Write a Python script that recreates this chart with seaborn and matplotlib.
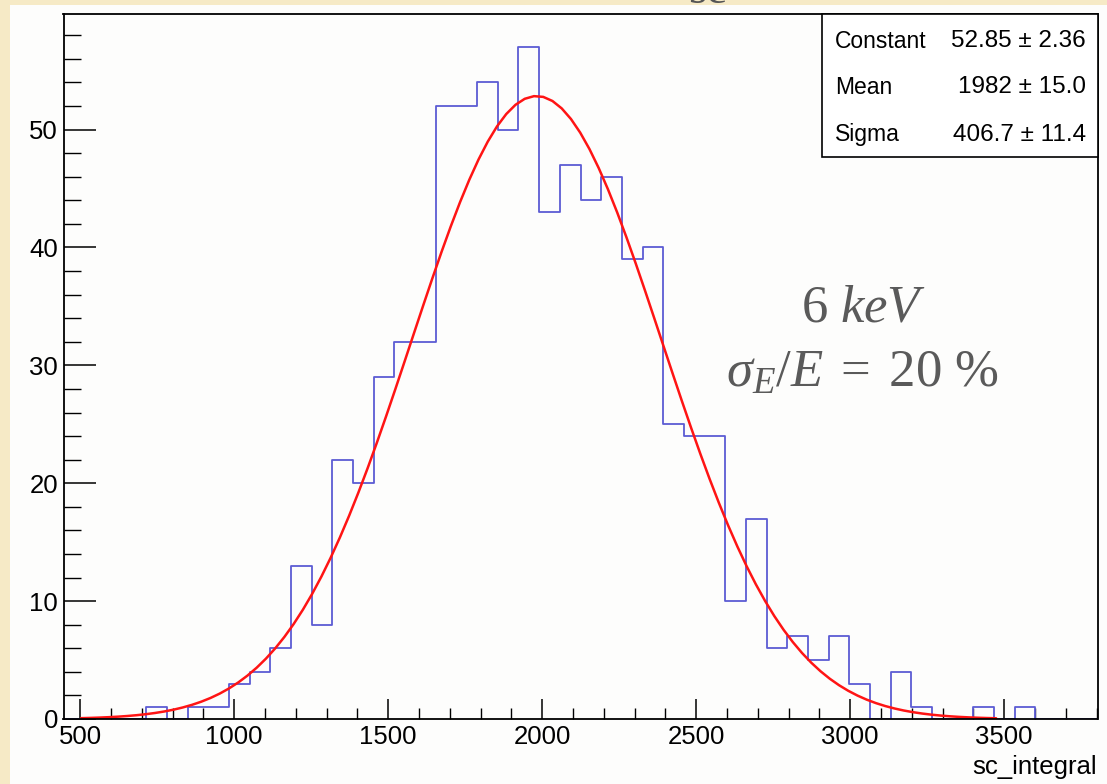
import numpy as np
import pandas as pd
import matplotlib
matplotlib.use("Agg")
import matplotlib.pyplot as plt
import seaborn as sns
from matplotlib.patches import Rectangle
from matplotlib.ticker import MultipleLocator, FixedLocator

# ---------------- data ----------------
bin_low = 446.0
bin_width = 67.14
counts = [0, 0, 0, 0, 1, 0, 1, 1, 3, 4,
          6, 13, 8, 22, 20, 29, 32, 32, 52, 52,
          54, 50, 57, 43, 47, 44, 46, 39, 40, 25,
          24, 24, 10, 17, 6, 7, 5, 7, 3, 0,
          4, 1, 0, 0, 1, 0, 1, 0, 0, 0]

fit_constant = 52.85
fit_mean = 1982.0
fit_sigma = 406.7
fit_range = (503.0, 3474.0)
fit_npx = 100

stat_names = ["Constant", "Mean", "Sigma"]
stat_values = ["52.85 ± 2.36", "1982 ± 15.0", "406.7 ± 11.4"]

x_major = [500, 1000, 1500, 2000, 2500, 3000, 3500]
y_major = [0, 10, 20, 30, 40, 50]
x_label = "sc_integral"
note_line1 = r"$6\ keV$"
note_line2 = r"$\sigma_E/E\;=\;20\ \%$"

# ---------------- derived ----------------
edges = [float(bin_low + bin_width * i) for i in range(len(counts) + 1)]
centers = [0.5 * (edges[i] + edges[i + 1]) for i in range(len(counts))]
hist_df = pd.DataFrame({"x": centers, "w": counts})

fit_x = np.linspace(fit_range[0], fit_range[1], fit_npx)
fit_y = fit_constant * np.exp(-0.5 * ((fit_x - fit_mean) / fit_sigma) ** 2)
fit_df = pd.DataFrame({"x": fit_x, "y": fit_y})

# ---------------- style ----------------
sns.set_style("ticks")
plt.rcParams["font.family"] = ["Liberation Sans", "DejaVu Sans"]
plt.rcParams["mathtext.fontset"] = "custom"
plt.rcParams["mathtext.rm"] = "Liberation Serif"
plt.rcParams["mathtext.it"] = "Liberation Serif:italic"
plt.rcParams["text.color"] = "black"
plt.rcParams["xtick.color"] = "black"
plt.rcParams["ytick.color"] = "black"
plt.rcParams["xtick.labelcolor"] = "black"
plt.rcParams["ytick.labelcolor"] = "black"

W, H = 1107.0, 784.0
fig = plt.figure(figsize=(W / 100, H / 100), dpi=100, facecolor="#f6eac6")


def fx(px):
    return px / W


def fy(py):
    return 1.0 - py / H


# white ROOT canvas (behind everything)
fig.patches.append(Rectangle((fx(10), 0), 1, fy(5), transform=fig.transFigure,
                             facecolor="#fdfdfc", edgecolor="none", zorder=-10))

# cut-off slide title at the very top
fig.text(fx(708), fy(3), "se", fontsize=34, family="Liberation Serif",
         color="#555555", ha="center", va="baseline")

ax = fig.add_axes([fx(63.5), fy(719), fx(1097.5) - fx(63.5), fy(13.5) - fy(719)])
ax.set_facecolor("#fdfdfc")
ax.set_zorder(1)

sns.histplot(data=hist_df, x="x", weights="w", bins=edges, element="step",
             fill=False, color="#5c5cd4", linewidth=1.3, ax=ax)
sns.lineplot(data=fit_df, x="x", y="y", color="#ff1414", linewidth=1.8,
             sort=False, ax=ax)

ax.set_xlim(bin_low, edges[-1])
ax.set_ylim(0, 59.85)
ax.set_xlabel("")
ax.set_ylabel("")

ax.xaxis.set_major_locator(FixedLocator(x_major))
ax.xaxis.set_minor_locator(MultipleLocator(100))
ax.yaxis.set_major_locator(FixedLocator(y_major))
ax.yaxis.set_minor_locator(MultipleLocator(2))

for s in ax.spines.values():
    s.set_visible(True)
    s.set_linewidth(1.3)
    s.set_color("black")

ax.tick_params(axis="x", which="major", direction="in", length=14.4, width=1.1,
               labelsize=18.5, pad=4, top=False, colors="black")
ax.tick_params(axis="x", which="minor", direction="in", length=7.9, width=1.0, top=False,
               colors="black")
ax.tick_params(axis="y", which="major", direction="in", length=23, width=1.1,
               labelsize=18.5, pad=4, right=False, colors="black")
ax.tick_params(axis="y", which="minor", direction="in", length=12.2, width=1.0, right=False,
               colors="black")

fig.text(fx(1097), fy(774), x_label, fontsize=18.5, ha="right", va="baseline",
         color="black", zorder=6)

# stats box
fig.patches.append(Rectangle((fx(822), fy(157)), fx(1098) - fx(822), fy(14) - fy(157),
                             transform=fig.transFigure, facecolor="white",
                             edgecolor="black", linewidth=1.2, zorder=5))
row_y = [41, 87, 135]
for name, val, ry in zip(stat_names, stat_values, row_y):
    fig.text(fx(835), fy(ry), name, fontsize=16.5, ha="left", va="center",
             color="black", zorder=6)
    fig.text(fx(1086), fy(ry), val, fontsize=17.5, ha="right", va="center",
             color="black", zorder=6)

# annotation
fig.text(fx(864), fy(322), note_line1, fontsize=38, color="#5a5a5a",
         ha="center", va="baseline", zorder=6)
fig.text(fx(862), fy(387), note_line2, fontsize=38, color="#5a5a5a",
         ha="center", va="baseline", zorder=6)

fig.savefig("out.png", dpi=100, facecolor=fig.get_facecolor())
